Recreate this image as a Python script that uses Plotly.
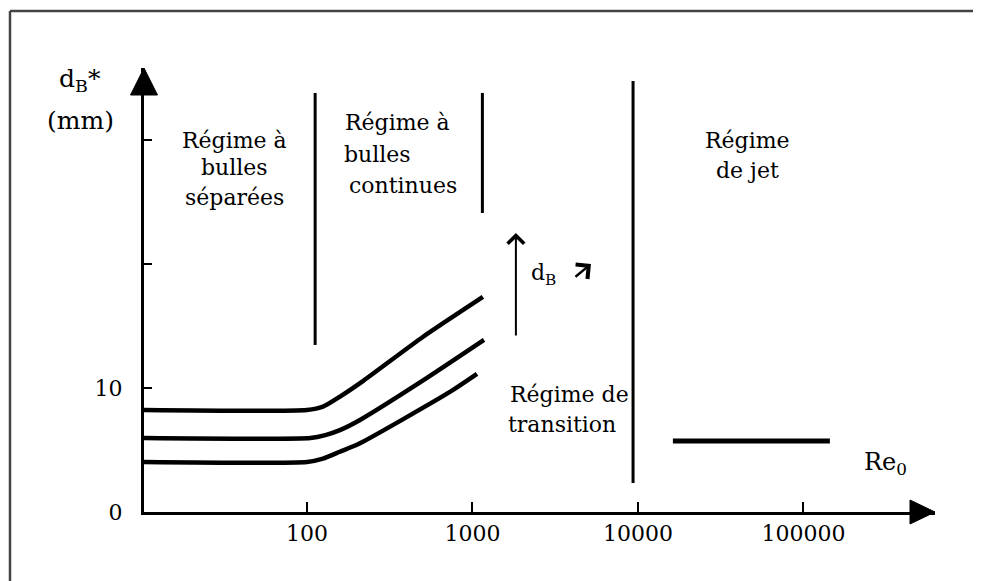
import math
import plotly.graph_objects as go

# ---- data ----
upper_re = [10.35, 100, 125, 160, 220, 501, 1156]
upper_d = [8.23, 8.23, 8.5, 9.35, 10.6, 14.11, 17.34]
middle_re = [10.35, 105, 129, 158, 209, 531, 1174]
middle_d = [5.97, 5.97, 6.2, 6.6, 7.42, 10.81, 13.87]
lower_re = [10.35, 100, 125, 158, 209, 731, 1065]
lower_d = [4.03, 4.03, 4.3, 4.86, 5.54, 9.68, 11.13]
jet_re = [16260, 144500]
jet_d = [5.73, 5.73]

bound_re = [112, 1148, 9340]
bound_top = [33.79, 33.79, 34.76]
bound_bottom = [13.47, 24.11, 2.34]

arrow_re = 1830
arrow_tip = 22.5
arrow_tail = 14.11

x_tickvals = [100, 1000, 10000, 100000]
x_ticktext = ["100", "1000", "10000", "100000"]
y_tickvals = [0, 10, 20, 30]
y_ticktext = ["0", "10", "", ""]

X_RANGE = [1.0151, 5.795]
Y_RANGE = [0, 35.8]

# ---- layout geometry (page has an 8px body margin) ----
OFF = 8
W, H = 981 - OFF, 581 - OFF
ML, MT = 144 - OFF, 68 - OFF
PW, PH = 791, 444
MR, MB = W - ML - PW, H - MT - PH
FONT = "DejaVu Serif"
FS = 22


def px(x):
    return (x - OFF - ML) / PW


def py(y):
    return (MT + PH - (y - OFF)) / PH


fig = go.Figure()
for xs, ys in [(upper_re, upper_d), (middle_re, middle_d), (lower_re, lower_d)]:
    fig.add_trace(go.Scatter(x=xs, y=ys, mode="lines",
                             line=dict(color="black", width=4.5, shape="spline", smoothing=0.6),
                             hoverinfo="skip", showlegend=False))
fig.add_trace(go.Scatter(x=jet_re, y=jet_d, mode="lines",
                         line=dict(color="black", width=5), showlegend=False))
for xb, yt, yb in zip(bound_re, bound_top, bound_bottom):
    fig.add_trace(go.Scatter(x=[xb, xb], y=[yb, yt], mode="lines",
                             line=dict(color="black", width=3), showlegend=False))

# axis arrowheads
shapes = [
    dict(type="path", xref="paper", yref="paper",
         path=f"M {-13.5/PW} {1-27/PH} L 0 1 L {13.5/PW} {1-27/PH} Z",
         fillcolor="black", line=dict(color="black", width=1)),
    dict(type="path", xref="paper", yref="paper",
         path=f"M {1-25/PW} {12/PH} L 1 0 L {1-25/PW} {-12/PH} Z",
         fillcolor="black", line=dict(color="black", width=1)),
    # page frame (top and left)
    dict(type="line", xref="paper", yref="paper", x0=px(10), x1=px(990), y0=py(11), y1=py(11),
         line=dict(color="#444", width=2.5)),
    dict(type="line", xref="paper", yref="paper", x0=px(10), x1=px(10), y0=py(11), y1=py(590),
         line=dict(color="#444", width=2.5)),
]

ann = []


def txt(t, x, y, xa="center", size=FS):
    ann.append(dict(text=t, x=px(x), y=py(y), xref="paper", yref="paper",
                    xanchor=xa, yanchor="middle", showarrow=False,
                    font=dict(family=FONT, size=size, color="black")))


txt("d<sub>B</sub>*", 57, 80, "left", 25)
txt("(mm)", 45, 120, "left", 25)
txt("Régime à", 234, 140)
txt("bulles", 234, 167)
txt("séparées", 234, 197)
txt("Régime à", 343, 122, "left")
txt("bulles", 342, 154, "left")
txt("continues", 347, 185, "left")
txt("Régime de", 508, 394, "left")
txt("transition", 506, 424, "left")
txt("Régime", 747, 140)
txt("de jet", 747, 170)
txt("Re<sub>0</sub>", 862, 463, "left", 24)
txt("d<sub>B</sub>", 529, 274, "left")

# dB increase arrow
ann.append(dict(x=math.log10(arrow_re), y=arrow_tip, ax=math.log10(arrow_re), ay=arrow_tail,
                xref="x", yref="y", axref="x", ayref="y", text="", showarrow=True,
                arrowhead=4, arrowsize=1.6, arrowwidth=2, arrowcolor="black"))
ann.append(dict(x=2 + (591 - 307) / 165.5, y=20.0, ax=-17, ay=14, xref="x", yref="y",
                text="", showarrow=True, arrowhead=4, arrowsize=1.5, arrowwidth=2.4,
                arrowcolor="black"))

fig.update_layout(
    width=W, height=H, margin=dict(l=ML, r=MR, t=MT, b=MB, autoexpand=False),
    paper_bgcolor="white", plot_bgcolor="white",
    shapes=shapes, annotations=ann, showlegend=False,
    xaxis=dict(type="log", range=X_RANGE, showgrid=False, zeroline=False,
               showline=True, linecolor="black", linewidth=3,
               ticks="inside", ticklen=10, tickwidth=2, tickcolor="black",
               tickvals=x_tickvals, ticktext=x_ticktext, ticklabelstandoff=0,
               tickfont=dict(family=FONT, size=FS, color="black")),
    yaxis=dict(range=Y_RANGE, showgrid=False, zeroline=False,
               showline=True, linecolor="black", linewidth=3,
               ticks="inside", ticklen=8, tickwidth=2, tickcolor="black",
               tickvals=y_tickvals, ticktext=y_ticktext, ticklabelstandoff=14,
               tickfont=dict(family=FONT, size=FS, color="black")),
)

fig.write_html("out.html")
